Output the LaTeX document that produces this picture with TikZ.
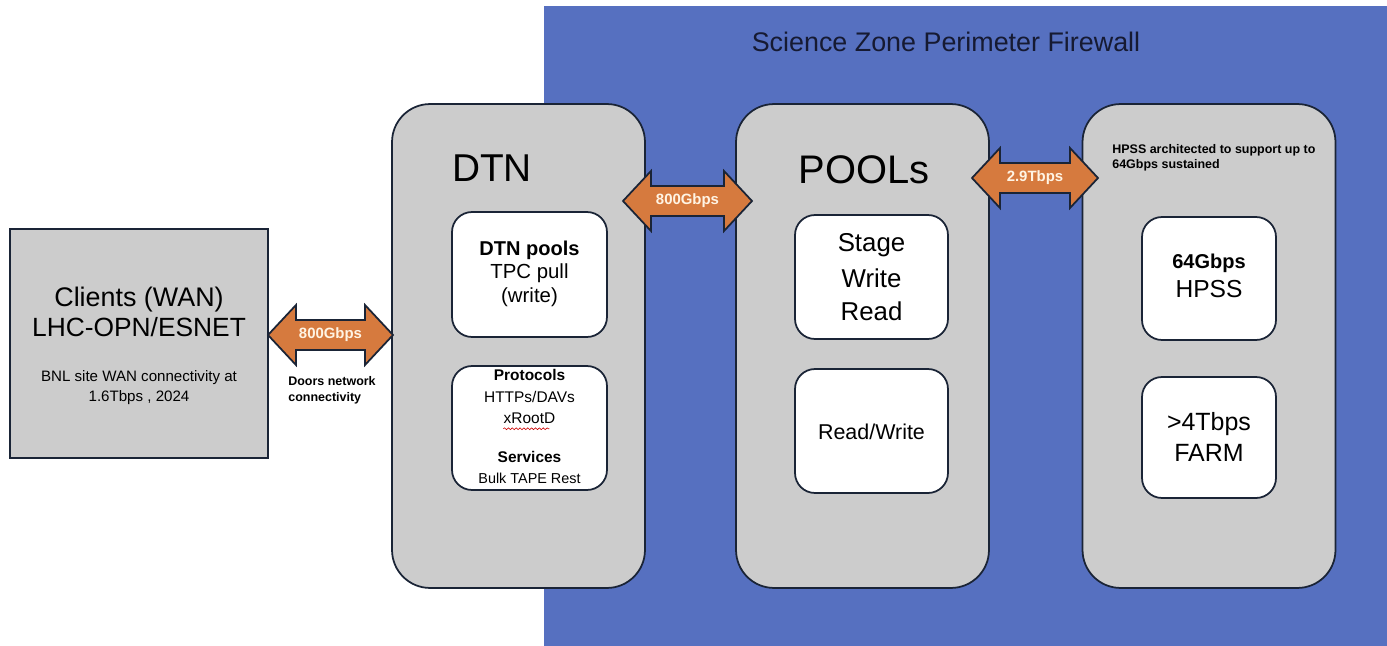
\documentclass[tikz,border=0pt]{standalone}
\usepackage{fontspec}
\setmainfont{Liberation Sans}
\usetikzlibrary{decorations.pathmorphing}
\definecolor{zoneblue}{RGB}{86,112,192}
\definecolor{boxgray}{RGB}{204,204,204}
\definecolor{edgecol}{RGB}{26,36,54}
\definecolor{arroworange}{RGB}{214,122,62}
\definecolor{labelcream}{RGB}{255,244,228}
\definecolor{titlecol}{RGB}{22,26,50}
\newcommand{\fpt}[1]{\fontsize{#1}{#1}\selectfont}
\newcommand{\blockarrow}[3]{%
  \draw[arrowstyle] (#1,#3) -- (#1+28,#3-30) -- (#1+28,#3-15) -- (#2-28,#3-15) -- (#2-28,#3-30) -- (#2,#3)
    -- (#2-28,#3+30) -- (#2-28,#3+15) -- (#1+28,#3+15) -- (#1+28,#3+30) -- cycle;}
\begin{document}
\begin{tikzpicture}[x=0.02cm,y=-0.02cm,
  bigbox/.style={draw=edgecol,fill=boxgray,line width=1pt,rounded corners=0.76cm,minimum width=5.06cm,minimum height=9.68cm,inner sep=0pt},
  innerbox/.style={draw=edgecol,fill=white,line width=1pt,rounded corners=0.4cm,inner sep=0pt},
  arrowstyle/.style={draw=edgecol,fill=arroworange,line width=1pt,line join=miter},
  arrowlabel/.style={text=labelcream,font=\bfseries\fpt{8.5},inner sep=0pt},
  txt/.style={inner sep=0pt,text=black}]
\useasboundingbox (0,0) rectangle (1387,646);
\fill[white] (0,0) rectangle (1387,646);
\fill[zoneblue] (544,6) rectangle (1387,646);
\node[txt,text=titlecol,font=\fpt{15.3}] (title) at (946,42) {Science Zone Perimeter Firewall};

% clients
\node[draw=edgecol,fill=boxgray,line width=1pt,minimum width=5.16cm,minimum height=4.58cm,inner sep=0pt] (clients) at (139,343.5) {};
\node[txt,font=\fpt{15.3}] (c1) at (139,300) {Clients (WAN)};
\node[txt,font=\fpt{15}] (c2) at (139,327) {LHC-OPN/ESNET};
\node[txt,font=\fpt{8.6}] (c3) at (139,378) {BNL site WAN connectivity at};
\node[txt,font=\fpt{8.6}] (c4) at (139,398) {1.6Tbps , 2024};

% big boxes
\node[bigbox] (dtn) at (518.5,346) {};
\node[bigbox] (pools) at (862.5,346) {};
\node[bigbox] (hpss) at (1209,346) {};

\node[txt,font=\fpt{22.1}] (dtntitle) at (492,168) {DTN};
\node[txt,font=\fpt{22.7}] (poolstitle) at (864,170) {POOLs};
\node[txt,font=\bfseries\fontsize{7.1}{8.5}\selectfont,anchor=west,align=left] (hpssnote) at (1112,157.5) {HPSS architected to support up to\\64Gbps sustained};

% arrows
\blockarrow{268}{393}{335}
\node[arrowlabel] (a1) at (330.5,335) {800Gbps};
\node[txt,font=\bfseries\fontsize{7.1}{9}\selectfont,anchor=west,align=left] (doors) at (288,390) {Doors network\\connectivity};
\blockarrow{623}{752}{201}
\node[arrowlabel] (a2) at (687.5,201) {800Gbps};
\blockarrow{972}{1098}{178}
\node[arrowlabel] (a3) at (1035,178) {2.9Tbps};

% DTN inner boxes
\node[innerbox,minimum width=3.1cm,minimum height=2.5cm] (dtnpools) at (529.5,274.5) {};
\node[txt,font=\bfseries\fpt{11.4}] (d1) at (529.5,250) {DTN pools};
\node[txt,font=\fpt{11.6}] (d2) at (529.5,273) {TPC pull};
\node[txt,font=\fpt{11.6}] (d3) at (529.5,297) {(write)};
\node[innerbox,minimum width=3.1cm,minimum height=2.48cm] (dtnproto) at (529.5,428) {};
\node[txt,font=\bfseries\fpt{8.8}] (p1) at (529.5,375) {Protocols};
\node[txt,font=\fpt{8.8}] (p2) at (529.5,397) {HTTPs/DAVs};
\node[txt,font=\fpt{8.8}] (p3) at (529.5,418) {xRootD};
\draw[red!80!black,line width=0.35pt,decorate,decoration={snake,amplitude=0.5pt,segment length=2.2pt}] (p3.south west)++(0,5) -- ++(46,0);
\node[txt,font=\bfseries\fpt{8.8}] (p4) at (529.5,457) {Services};
\node[txt,font=\fpt{8.2}] (p5) at (529.5,478) {Bulk TAPE Rest};

% POOLs inner boxes
\node[innerbox,minimum width=3.06cm,minimum height=2.48cm] (stage) at (871.5,277) {};
\node[txt,font=\fpt{14.7}] (s1) at (871.5,245) {Stage};
\node[txt,font=\fpt{14.7}] (s2) at (871.5,278) {Write};
\node[txt,font=\fpt{14.7}] (s3) at (871.5,311) {Read};
\node[innerbox,minimum width=3.06cm,minimum height=2.48cm] (rw) at (871.5,431) {};
\node[txt,font=\fpt{12.2}] (rwt) at (871.5,432) {Read/Write};

% HPSS inner boxes
\node[innerbox,minimum width=2.68cm,minimum height=2.46cm] (hpssin) at (1209,278.5) {};
\node[txt,font=\bfseries\fpt{11.4}] (h1) at (1209,263) {64Gbps};
\node[txt,font=\fpt{14}] (h2) at (1209,289) {HPSS};
\node[innerbox,minimum width=2.68cm,minimum height=2.42cm] (farm) at (1209,437.5) {};
\node[txt,font=\fpt{14.2}] (f1) at (1209,424) {>4Tbps};
\node[txt,font=\fpt{14.2}] (f2) at (1209,453) {FARM};
\end{tikzpicture}
\end{document}
